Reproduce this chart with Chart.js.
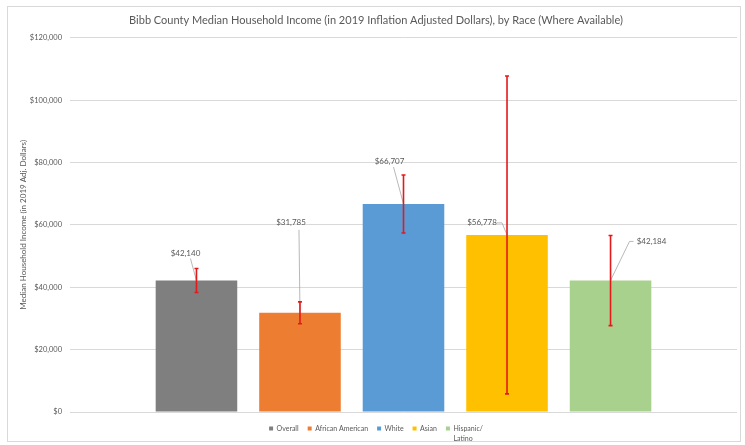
<!DOCTYPE html>
<html>
<head>
<meta charset="utf-8">
<script src="https://cdn.jsdelivr.net/npm/chart.js@4/dist/chart.umd.min.js"></script>
<style>
html, body { margin: 0; padding: 0; background: #fff; }
</style>
</head>
<body>
<canvas id="incomeChart" width="745" height="445"></canvas>
<script>
// median household income by race, with margin-of-error ranges
let groups = ["Overall", "African American", "White", "Asian", "Hispanic/Latino"]
let legendLines = [["Overall"], ["African American"], ["White"], ["Asian"], ["Hispanic/", "Latino"]]
let incomes = [42140, 31785, 66707, 56778, 42184]
let lowBounds = [38300, 28300, 57400, 5800, 27700]
let highBounds = [46000, 35300, 76000, 107700, 56600]
let yMin = 0
let yMax = 120000
let yStep = 20000

let barColors = ["#7f7f7f", "#ed7d31", "#5b9bd5", "#ffc000", "#a9d18e"]
let textColor = "#595959"
let fontFamily = "Lato, 'Open Sans', sans-serif"

// value label placement, relative to the top centre of each bar
let labelOffsets = [[-11, -27], [-9, -90], [-14, -43], [-25, -12], [41, -39]]
let leaderPaths = [
    [[-6, -22], [0, 0]],
    [[-1, -83], [0, 0]],
    [[-10, -37], [0, 0]],
    [[-10, -12], [-5, -12], [0, 0]],
    [[23, -39], [19, -39], [0, 0]]
]

function money(v){
    return "$" + v.toLocaleString("en-US")
}

let framePlugin = {
    id: "frame",
    beforeDraw(chart){
        let ctx = chart.ctx
        ctx.save()
        ctx.fillStyle = "#fff"
        ctx.fillRect(0, 0, chart.width, chart.height)
        ctx.strokeStyle = "#d9d9d9"
        ctx.lineWidth = 1
        ctx.strokeRect(7.5, 6.5, 733, 435)
        ctx.restore()
    }
}

let annotatePlugin = {
    id: "annotate",
    afterDatasetsDraw(chart){
        let ctx = chart.ctx
        let y = chart.scales.y
        ctx.save()

        // leader lines
        ctx.strokeStyle = "#a6a6a6"
        ctx.lineWidth = 0.8
        groups.forEach((g, i) => {
            let bar = chart.getDatasetMeta(i).data[0]
            ctx.beginPath()
            leaderPaths[i].forEach((p, k) => {
                if(k === 0) ctx.moveTo(bar.x + p[0], bar.y + p[1])
                else ctx.lineTo(bar.x + p[0], bar.y + p[1])
            })
            ctx.stroke()
        })

        // error bars
        ctx.strokeStyle = "#e31a1c"
        ctx.lineWidth = 1.6
        groups.forEach((g, i) => {
            let bar = chart.getDatasetMeta(i).data[0]
            let top = y.getPixelForValue(highBounds[i])
            let bottom = y.getPixelForValue(lowBounds[i])
            ctx.beginPath()
            ctx.moveTo(bar.x, top)
            ctx.lineTo(bar.x, bottom)
            ctx.moveTo(bar.x - 2, top)
            ctx.lineTo(bar.x + 2, top)
            ctx.moveTo(bar.x - 2, bottom)
            ctx.lineTo(bar.x + 2, bottom)
            ctx.stroke()
        })

        // value labels
        ctx.fillStyle = textColor
        ctx.font = "8px " + fontFamily
        ctx.textAlign = "center"
        ctx.textBaseline = "middle"
        groups.forEach((g, i) => {
            let bar = chart.getDatasetMeta(i).data[0]
            ctx.fillText(money(incomes[i]), bar.x + labelOffsets[i][0], bar.y + labelOffsets[i][1])
        })
        ctx.restore()
    },
    afterDraw(chart){
        // second line of wrapped legend entries
        let legend = chart.legend
        let ctx = chart.ctx
        ctx.save()
        ctx.fillStyle = textColor
        ctx.font = "7px " + fontFamily
        ctx.textAlign = "left"
        ctx.textBaseline = "middle"
        legend.legendItems.forEach((item, i) => {
            let box = legend.legendHitBoxes[i]
            let lines = legendLines[i]
            for(let k = 1; k < lines.length; k++){
                ctx.fillText(lines[k], box.left + 4 + 3.5, box.top + box.height / 2 + 10 * k)
            }
        })
        ctx.restore()
    }
}

let incomeChart =
new Chart(
    document.getElementById("incomeChart"),
    {
        type: "bar",
        data: {
            labels: [""],
            datasets: groups.map((g, i) => ({
                label: legendLines[i][0],
                data: [incomes[i]],
                backgroundColor: barColors[i],
                borderWidth: 0,
                categoryPercentage: 0.776,
                barPercentage: 0.788
            }))
        },
        options: {
            responsive: false,
            animation: false,
            devicePixelRatio: 1,
            layout: {
                padding: { left: 15, right: 8, top: 8, bottom: 3 }
            },
            scales: {
                x: {
                    display: true,
                    border: { display: false },
                    grid: { display: false },
                    ticks: { display: false },
                    afterFit: scale => { scale.height = 4 }
                },
                y: {
                    min: yMin,
                    max: yMax,
                    border: { display: false },
                    grid: { color: "#d9d9d9", drawTicks: false },
                    ticks: {
                        stepSize: yStep,
                        padding: 8,
                        color: textColor,
                        font: { family: fontFamily, size: 7.5 },
                        callback: v => money(v)
                    },
                    title: {
                        display: true,
                        text: "Median Household Income (in 2019 Adj. Dollars)",
                        color: textColor,
                        font: { family: fontFamily, size: 8 },
                        padding: { top: 4, bottom: 0 }
                    },
                    afterFit: scale => { scale.width = 55 }
                }
            },
            plugins: {
                title: {
                    display: true,
                    text: "Bibb County Median Household Income (in 2019 Inflation Adjusted Dollars), by Race (Where Available)",
                    color: textColor,
                    font: { family: fontFamily, size: 11, weight: "normal" },
                    padding: { top: 5.5, bottom: 11 }
                },
                legend: {
                    position: "bottom",
                    labels: {
                        boxWidth: 4,
                        boxHeight: 4,
                        padding: 9,
                        color: textColor,
                        font: { family: fontFamily, size: 7 }
                    }
                },
                tooltip: { enabled: false }
            }
        },
        plugins: [framePlugin, annotatePlugin]
    }
)
</script>
</body>
</html>
